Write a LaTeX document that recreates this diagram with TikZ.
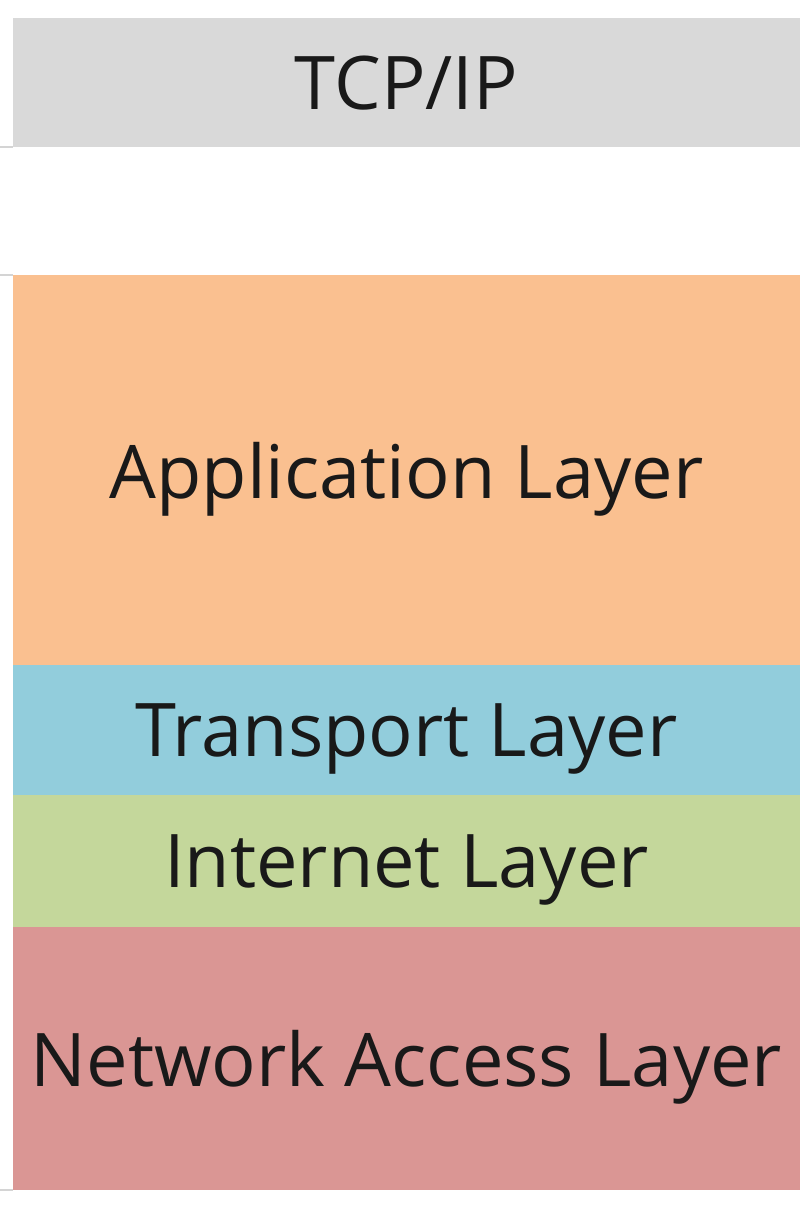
\documentclass[tikz,border=0pt]{standalone}
\usepackage{fontspec}
\setmainfont{Open Sans}
\usepackage{tikz}
\usetikzlibrary{positioning}
\definecolor{hdrgray}{HTML}{D9D9D9}
\definecolor{appcol}{HTML}{FAC090}
\definecolor{trncol}{HTML}{92CDDC}
\definecolor{inetcol}{HTML}{C4D79B}
\definecolor{netcol}{HTML}{DA9694}
\definecolor{rulecol}{HTML}{D4D4D4}
\tikzset{
  layer/.style={rectangle,inner sep=0pt,outer sep=0pt,minimum width=787pt,
    text depth=0pt,font=\fontsize{74}{78}\selectfont,text=black!90},
  rule/.style={draw=rulecol,line width=1.5pt}
}
\begin{document}
\begin{tikzpicture}[x=1pt,y=1pt]
        \useasboundingbox (0,0) rectangle (810,-1208);
        % header
        \node[layer,fill=hdrgray,minimum height=129pt,anchor=north west] (hdr) at (13,-18) {TCP/IP};
        % layers
        \node[layer,fill=appcol,minimum height=390pt,anchor=north west] (app) at (13,-275) {Application Layer};
        \node[layer,fill=trncol,minimum height=130pt,below=0pt of app] (trn) {Transport Layer};
        \node[layer,fill=inetcol,minimum height=132pt,below=0pt of trn] (inet) {Internet Layer};
        \node[layer,fill=netcol,minimum height=263pt,below=0pt of inet] (net) {Network Access Layer};
        % grid lines
        \coordinate (l1) at (0,-147);
        \coordinate (l2) at (0,-275);
        \coordinate (l3) at (0,-1190);
        \draw[rule] (l1) -- (hdr.south west);
        \draw[rule] (l2) -- (app.north west);
        \draw[rule] (l3) -- (net.south west);
    \end{tikzpicture}
\end{document}
